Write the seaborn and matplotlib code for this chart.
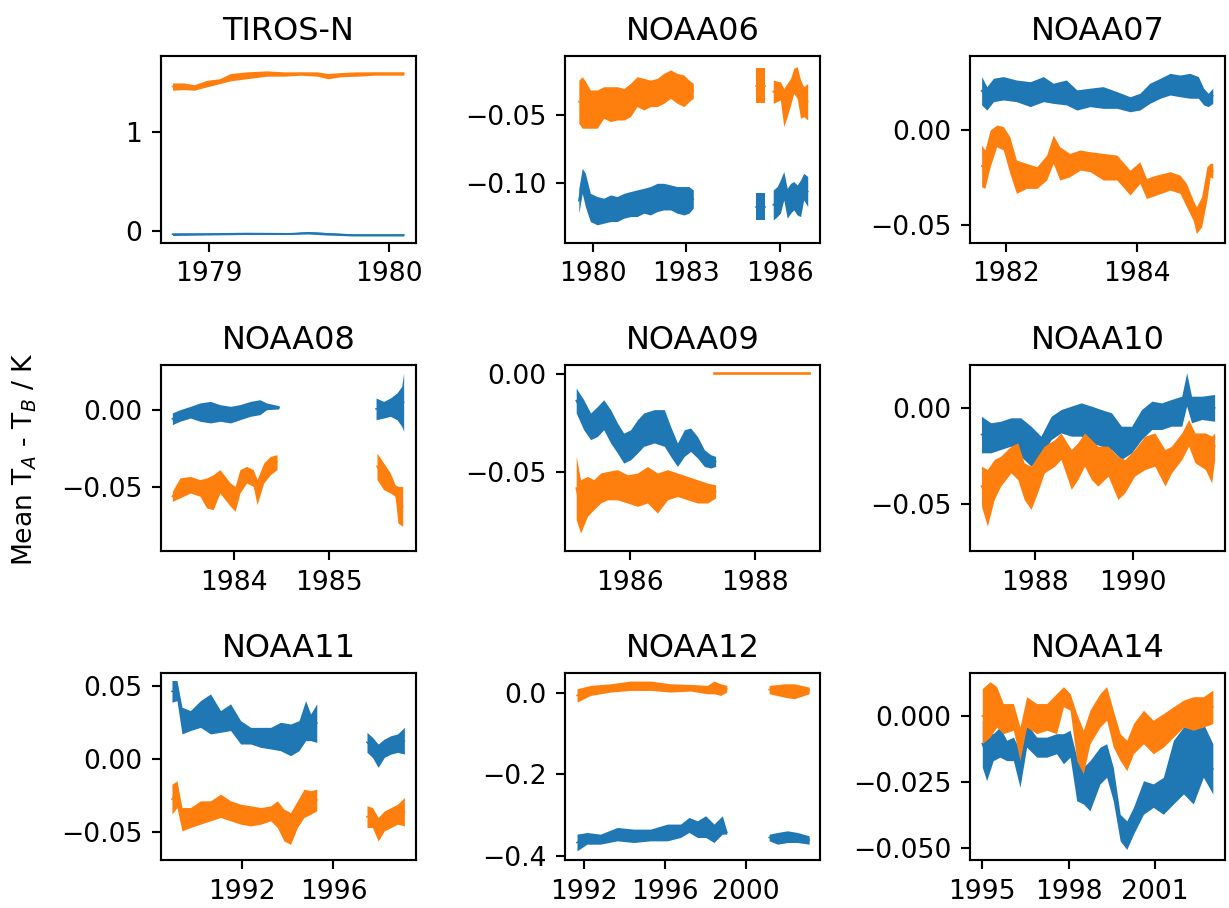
import numpy as np
import pandas as pd
import matplotlib
matplotlib.use("Agg")
import matplotlib.pyplot as plt
import seaborn as sns

nan = np.nan
BLUE = "#1f77b4"
ORANGE = "#ff7f0e"

# ---------------- data (decimal year, band low / band high) ----------------
TIROSN_YR_A = [1978.80, 1978.86, 1978.92, 1978.99, 1979.06, 1979.12, 1979.21, 1979.32, 1979.42,
               1979.51, 1979.60, 1979.66, 1979.73, 1979.82, 1979.92, 1980.01, 1980.08]
TIROSN_A_LO = [1.424, 1.43, 1.424, 1.458, 1.49, 1.519, 1.54, 1.566, 1.566,
               1.576, 1.566, 1.54, 1.56, 1.566, 1.576, 1.576, 1.576]
TIROSN_A_HI = [1.498, 1.498, 1.48, 1.525, 1.54, 1.593, 1.61, 1.62, 1.61,
               1.61, 1.61, 1.593, 1.603, 1.61, 1.61, 1.61, 1.61]
TIROSN_YR_B = [1978.80, 1979.0, 1979.2, 1979.45, 1979.55, 1979.65, 1979.8, 1980.08]
TIROSN_B_LO = [-0.045, -0.04, -0.035, -0.035, -0.03, -0.04, -0.05, -0.05]
TIROSN_B_HI = [-0.02, -0.02, -0.015, -0.02, -0.005, -0.015, -0.03, -0.03]

N06_YR = [1979.54, 1979.65, 1979.75, 1979.91, 1980.13, 1980.34, 1980.56, 1980.77, 1980.99, 1981.20,
          1981.41, 1981.63, 1981.84, 1982.06, 1982.27, 1982.49, 1982.70, 1982.92, 1983.08, 1983.22,
          nan, 1985.25, 1985.54, nan,
          1985.79, 1985.92, 1986.02, 1986.13, 1986.24, 1986.35, 1986.45, 1986.56, 1986.67, 1986.77, 1986.90]
N06_A_LO = [-0.0562, -0.0598, -0.0598, -0.0598, -0.0598, -0.0525, -0.0549, -0.0537, -0.0537, -0.0512,
            -0.0438, -0.0463, -0.0438, -0.0438, -0.0414, -0.0377, -0.0414, -0.0438, -0.0402, -0.0377,
            nan, -0.0414, -0.0414, nan,
            -0.0414, -0.040, -0.0389, -0.0586, -0.0512, -0.0426, -0.034, -0.0377, -0.0525, -0.0512, -0.0537]
N06_A_HI = [-0.0242, -0.0217, -0.0250, -0.0315, -0.0315, -0.0291, -0.0291, -0.0291, -0.0303, -0.0266,
            -0.0217, -0.0229, -0.0242, -0.0229, -0.0192, -0.0167, -0.0192, -0.0205, -0.0242, -0.0266,
            nan, -0.0155, -0.0155, nan,
            -0.0242, -0.0250, -0.0254, -0.0303, -0.0266, -0.0229, -0.0155, -0.0143, -0.0242, -0.0291, -0.0266]
N06_B_LO = [-0.1226, -0.1079, -0.1177, -0.1288, -0.1312, -0.1300, -0.1288, -0.1288, -0.1263, -0.1251,
            -0.1251, -0.1226, -0.1239, -0.1214, -0.1202, -0.1202, -0.1226, -0.1239, -0.1226, -0.1189,
            nan, -0.1276, -0.1276, nan,
            -0.1276, -0.1251, -0.1226, -0.1128, -0.1263, -0.1226, -0.1202, -0.1239, -0.1251, -0.1128, -0.1177]
N06_B_HI = [-0.1042, -0.0894, -0.0931, -0.1079, -0.1103, -0.1115, -0.1091, -0.1103, -0.1079, -0.1066,
            -0.1054, -0.1042, -0.1029, -0.1005, -0.1005, -0.1017, -0.1029, -0.1029, -0.1029, -0.1054,
            nan, -0.1079, -0.1079, nan,
            -0.1054, -0.1029, -0.0980, -0.0918, -0.1042, -0.1005, -0.0992, -0.1017, -0.0980, -0.0931, -0.0955]

N07_YR_B = [1981.63, 1981.71, 1981.81, 1981.96, 1982.16, 1982.37, 1982.57, 1982.72, 1982.92, 1983.08,
            1983.28, 1983.48, 1983.69, 1983.89, 1984.04, 1984.19, 1984.35, 1984.50, 1984.65, 1984.80,
            1984.93, 1985.01, 1985.08, 1985.15]
N07_B_LO = [0.0132, 0.0105, 0.0149, 0.0158, 0.0149, 0.0123, 0.0149, 0.0140, 0.0132, 0.0105,
            0.0123, 0.0114, 0.0114, 0.0096, 0.0105, 0.0140, 0.0167, 0.0184, 0.0175, 0.0167,
            0.0167, 0.0132, 0.0123, 0.0140]
N07_B_HI = [0.0281, 0.0228, 0.0272, 0.0281, 0.0263, 0.0254, 0.0281, 0.0246, 0.0263, 0.0211,
            0.0220, 0.0228, 0.0202, 0.0175, 0.0193, 0.0246, 0.0272, 0.0298, 0.0289, 0.0298,
            0.0281, 0.0220, 0.0193, 0.0220]
N07_YR_A = [1981.63, 1981.68, 1981.76, 1981.86, 1981.96, 1982.06, 1982.16, 1982.31, 1982.47, 1982.62,
            1982.72, 1982.82, 1982.97, 1983.13, 1983.28, 1983.48, 1983.69, 1983.89, 1984.04, 1984.14,
            1984.29, 1984.50, 1984.65, 1984.75, 1984.85, 1984.90, 1984.98, 1985.06, 1985.11, 1985.15]
N07_A_LO = [-0.0298, -0.0307, -0.0193, -0.0088, -0.0105, -0.0228, -0.0333, -0.0307, -0.0307, -0.0263,
            -0.0175, -0.0263, -0.0246, -0.0211, -0.0219, -0.0263, -0.0263, -0.0342, -0.0281, -0.0360,
            -0.0342, -0.0316, -0.0333, -0.0404, -0.0474, -0.0544, -0.0509, -0.0368, -0.0246, -0.0254]
N07_A_HI = [-0.0079, -0.0105, 0.0000, 0.0026, 0.0018, -0.0035, -0.0158, -0.0175, -0.0193, -0.0132,
            -0.0026, -0.0088, -0.0123, -0.0105, -0.0114, -0.0123, -0.0132, -0.0211, -0.0167, -0.0254,
            -0.0237, -0.0219, -0.0237, -0.0281, -0.0368, -0.0404, -0.0351, -0.0193, -0.0175, -0.0175]

N08_YR_B = [1983.35, 1983.43, 1983.54, 1983.64, 1983.75, 1983.85, 1983.96, 1984.06, 1984.17, 1984.27,
            1984.34, 1984.47, nan, 1985.49, 1985.57, 1985.64, 1985.71, 1985.76, 1985.78]
N08_B_LO = [-0.0093, -0.0071, -0.0050, -0.0071, -0.0082, -0.0071, -0.0082, -0.0061, -0.0039, -0.0028,
            0.0004, 0.0009, nan, -0.0061, -0.0050, -0.0039, -0.0061, -0.0104, -0.0136]
N08_B_HI = [-0.0017, 0.0004, 0.0026, 0.0048, 0.0058, 0.0037, 0.0026, 0.0037, 0.0058, 0.0069,
            0.0048, 0.0030, nan, 0.0080, 0.0058, 0.0080, 0.0113, 0.0156, 0.0242]
N08_YR_A = [1983.35, 1983.43, 1983.54, 1983.64, 1983.71, 1983.78, 1983.85, 1983.96, 1984.01, 1984.06,
            1984.13, 1984.20, 1984.24, 1984.31, 1984.38, 1984.45, nan,
            1985.50, 1985.57, 1985.64, 1985.69, 1985.72, 1985.77]
N08_A_LO = [-0.0591, -0.0569, -0.0537, -0.0558, -0.0634, -0.0645, -0.0537, -0.0623, -0.0656, -0.0537,
            -0.0472, -0.0494, -0.0613, -0.0472, -0.0418, -0.0385, nan,
            -0.0450, -0.0515, -0.0537, -0.0558, -0.0732, -0.0753]
N08_A_HI = [-0.0526, -0.0439, -0.0429, -0.0450, -0.0439, -0.0418, -0.0385, -0.0472, -0.0494, -0.0385,
            -0.0364, -0.0385, -0.0450, -0.0342, -0.0299, -0.0288, nan,
            -0.0277, -0.0342, -0.0407, -0.0483, -0.0494, -0.0494]

N09_YR_B = [1985.14, 1985.26, 1985.37, 1985.48, 1985.58, 1985.69, 1985.80, 1985.90, 1986.01, 1986.12,
            1986.22, 1986.39, 1986.55, 1986.65, 1986.76, 1986.87, 1986.97, 1987.08, 1987.19, 1987.29, 1987.37]
N09_B_LO = [-0.0199, -0.0284, -0.0334, -0.0318, -0.0284, -0.0351, -0.0402, -0.0453, -0.0436, -0.0402,
            -0.0368, -0.0351, -0.0368, -0.0419, -0.0470, -0.0419, -0.0394, -0.0427, -0.0470, -0.0478, -0.0470]
N09_B_HI = [-0.0073, -0.0132, -0.0199, -0.0166, -0.0132, -0.0182, -0.0250, -0.0301, -0.0284, -0.0233,
            -0.0199, -0.0182, -0.0182, -0.0267, -0.0351, -0.0284, -0.0275, -0.0318, -0.0385, -0.0410, -0.0419]
N09_YR_A = [1985.14, 1985.21, 1985.32, 1985.42, 1985.53, 1985.64, 1985.80, 1985.96, 1986.12, 1986.28,
            1986.44, 1986.60, 1986.76, 1986.92, 1987.08, 1987.24, 1987.37]
N09_A_LO = [-0.0740, -0.0807, -0.0723, -0.0689, -0.0655, -0.0639, -0.0639, -0.0655, -0.0672, -0.0655,
            -0.0706, -0.0639, -0.0622, -0.0639, -0.0655, -0.0655, -0.0630]
N09_A_HI = [-0.0419, -0.0537, -0.0520, -0.0537, -0.0503, -0.0495, -0.0486, -0.0512, -0.0503, -0.0470,
            -0.0503, -0.0486, -0.0503, -0.0520, -0.0537, -0.0554, -0.0563]
N09_FLAT_YR = [1987.35, 1988.87]
N09_FLAT_V = [0.0003, 0.0003]

N10_YR_B = [1986.91, 1987.10, 1987.30, 1987.51, 1987.71, 1987.92, 1988.12, 1988.33, 1988.53, 1988.74,
            1988.94, 1989.15, 1989.35, 1989.56, 1989.76, 1989.97, 1990.17, 1990.38, 1990.58, 1990.78,
            1990.99, 1991.09, 1991.19, 1991.40, 1991.66]
N10_B_LO = [-0.0235, -0.0235, -0.0218, -0.0200, -0.0253, -0.0305, -0.0253, -0.0166, -0.0131, -0.0148,
            -0.0148, -0.0183, -0.0200, -0.0218, -0.0270, -0.0235, -0.0166, -0.0113, -0.0113, -0.0096,
            -0.0096, 0.0009, -0.0078, -0.0061, -0.0070]
N10_B_HI = [-0.0044, -0.0078, -0.0070, -0.0052, -0.0052, -0.0096, -0.0148, -0.0044, -0.0009, 0.0009,
            0.0026, 0.0009, -0.0009, -0.0026, -0.0096, -0.0096, -0.0009, 0.0035, 0.0026, 0.0044,
            0.0061, 0.0183, 0.0061, 0.0061, 0.0070]
N10_YR_A = [1986.91, 1987.03, 1987.17, 1987.30, 1987.51, 1987.65, 1987.78, 1987.92, 1988.05, 1988.19,
            1988.40, 1988.53, 1988.74, 1988.87, 1989.01, 1989.15, 1989.28, 1989.49, 1989.69, 1989.83,
            1990.03, 1990.24, 1990.44, 1990.65, 1990.78, 1990.99, 1991.13, 1991.26, 1991.47, 1991.60, 1991.66]
N10_A_LO = [-0.0514, -0.0618, -0.0479, -0.0409, -0.0340, -0.0375, -0.0479, -0.0531, -0.0444, -0.0340,
            -0.0305, -0.0270, -0.0426, -0.0375, -0.0305, -0.0375, -0.0409, -0.0357, -0.0479, -0.0444,
            -0.0357, -0.0322, -0.0305, -0.0409, -0.0340, -0.0270, -0.0200, -0.0287, -0.0322, -0.0392, -0.0270]
N10_A_HI = [-0.0305, -0.0322, -0.0270, -0.0253, -0.0200, -0.0183, -0.0287, -0.0305, -0.0253, -0.0200,
            -0.0166, -0.0131, -0.0218, -0.0183, -0.0131, -0.0166, -0.0200, -0.0200, -0.0253, -0.0270,
            -0.0218, -0.0148, -0.0131, -0.0218, -0.0200, -0.0131, -0.0061, -0.0131, -0.0131, -0.0148, -0.0131]

N11_YR_B = [1988.92, 1989.14, 1989.36, 1989.73, 1990.17, 1990.61, 1991.05, 1991.49, 1991.93, 1992.37,
            1992.81, 1993.25, 1993.68, 1994.12, 1994.49, 1994.78, 1995.00, 1995.27, nan,
            1997.47, 1997.71, 1997.96, 1998.23, 1998.52, 1998.81, 1999.11]
N11_B_LO = [0.0389, 0.0400, 0.0172, 0.0195, 0.0217, 0.0172, 0.0183, 0.0195, 0.0103, 0.0103,
            0.0080, 0.0069, 0.0057, 0.0023, 0.0057, 0.0126, 0.0126, 0.0114, nan,
            0.0046, 0.0011, -0.0057, 0.0011, 0.0034, 0.0046, 0.0034]
N11_B_HI = [0.0538, 0.0538, 0.0355, 0.0332, 0.0400, 0.0446, 0.0332, 0.0378, 0.0263, 0.0217,
            0.0217, 0.0217, 0.0252, 0.0240, 0.0263, 0.0400, 0.0309, 0.0378, nan,
            0.0183, 0.0149, 0.0103, 0.0137, 0.0160, 0.0172, 0.0217]
N11_YR_A = [1988.92, 1989.14, 1989.36, 1989.73, 1990.17, 1990.61, 1991.05, 1991.49, 1991.93, 1992.37,
            1992.81, 1993.25, 1993.54, 1993.83, 1994.12, 1994.42, 1994.71, 1995.00, 1995.27, nan,
            1997.47, 1997.71, 1997.96, 1998.23, 1998.52, 1998.81, 1999.11]
N11_A_LO = [-0.0378, -0.0332, -0.0492, -0.0469, -0.0446, -0.0423, -0.0400, -0.0423, -0.0446, -0.0458,
            -0.0446, -0.0423, -0.0469, -0.0561, -0.0584, -0.0469, -0.0400, -0.0378, -0.0355, nan,
            -0.0469, -0.0469, -0.0561, -0.0492, -0.0469, -0.0446, -0.0458]
N11_A_HI = [-0.0172, -0.0149, -0.0332, -0.0332, -0.0286, -0.0286, -0.0240, -0.0286, -0.0309, -0.0320,
            -0.0332, -0.0320, -0.0286, -0.0343, -0.0366, -0.0286, -0.0206, -0.0217, -0.0206, nan,
            -0.0320, -0.0332, -0.0400, -0.0355, -0.0332, -0.0309, -0.0263]

N12_YR_A = [1991.67, 1992.33, 1993.32, 1994.30, 1995.29, 1996.28, 1997.27, 1998.09, 1998.42, 1998.75,
            1999.05, nan, 2001.14, 2001.88, 2002.37, 2003.11]
N12_A_LO = [-0.0230, -0.0066, 0.0016, 0.0057, 0.0057, 0.0016, 0.0041, -0.0025, -0.0025, -0.0066,
            0.0016, nan, -0.0025, -0.0107, -0.0148, -0.0025]
N12_A_HI = [0.0098, 0.0180, 0.0220, 0.0287, 0.0287, 0.0220, 0.0205, 0.0180, 0.0287, 0.0220,
            0.0180, nan, 0.0180, 0.0220, 0.0220, 0.0139]
N12_YR_B = [1991.67, 1992.16, 1992.82, 1993.65, 1994.47, 1995.29, 1996.12, 1996.77, 1997.19, 1997.60,
            1998.01, 1998.42, 1998.83, 1999.05, nan, 2001.14, 2001.55, 2002.04, 2002.53, 2003.11]
N12_B_LO = [-0.3877, -0.3713, -0.3713, -0.3631, -0.3672, -0.3631, -0.3631, -0.3549, -0.3426, -0.3549,
            -0.3549, -0.3672, -0.3467, -0.3467, nan, -0.3631, -0.3713, -0.3672, -0.3672, -0.3713]
N12_B_HI = [-0.3467, -0.3426, -0.3467, -0.3303, -0.3344, -0.3344, -0.3220, -0.3220, -0.3057, -0.3139,
            -0.3016, -0.3220, -0.3016, -0.3385, nan, -0.3467, -0.3426, -0.3385, -0.3426, -0.3508]

N14_YR_A = [1995.00, 1995.27, 1995.50, 1995.73, 1996.08, 1996.31, 1996.54, 1996.89, 1997.24, 1997.58,
            1997.82, 1998.05, 1998.28, 1998.51, 1998.74, 1999.09, 1999.32, 1999.55, 1999.79, 2000.02,
            2000.25, 2000.60, 2000.94, 2001.29, 2001.64, 2001.99, 2002.33, 2002.68, 2003.01]
N14_A_LO = [-0.0104, -0.0079, -0.0041, -0.0066, -0.0053, -0.0168, -0.0041, -0.0066, -0.0053, -0.0066,
            0.0036, 0.0023, -0.0168, -0.0218, -0.0104, -0.0041, -0.0015, -0.0117, -0.0168, -0.0206,
            -0.0142, -0.0104, -0.0142, -0.0117, -0.0079, -0.0041, -0.0053, -0.0041, -0.0028]
N14_A_HI = [0.0105, 0.0131, 0.0112, 0.0048, 0.0048, -0.0041, 0.0074, 0.0048, 0.0048, 0.0086,
            0.0112, 0.0086, 0.0010, -0.0053, 0.0023, 0.0086, 0.0112, 0.0023, -0.0066, -0.0091,
            -0.0028, 0.0023, -0.0015, 0.0010, 0.0036, 0.0061, 0.0074, 0.0074, 0.0099]
N14_YR_B = [1995.00, 1995.15, 1995.38, 1995.61, 1995.85, 1996.08, 1996.31, 1996.54, 1996.89, 1997.24,
            1997.58, 1997.82, 1998.05, 1998.28, 1998.51, 1998.74, 1999.09, 1999.32, 1999.55, 1999.79,
            2000.02, 2000.25, 2000.60, 2000.94, 2001.29, 2001.64, 2001.99, 2002.33, 2002.68, 2003.01]
N14_B_LO = [-0.0193, -0.0244, -0.0168, -0.0155, -0.0168, -0.0168, -0.0269, -0.0117, -0.0155, -0.0155,
            -0.0142, -0.0180, -0.0155, -0.0320, -0.0332, -0.0358, -0.0256, -0.0231, -0.0320, -0.0472,
            -0.0504, -0.0447, -0.0371, -0.0345, -0.0371, -0.0332, -0.0294, -0.0332, -0.0231, -0.0294]
N14_B_HI = [-0.0015, -0.0053, -0.0066, -0.0041, -0.0091, -0.0079, -0.0130, -0.0028, -0.0079, -0.0079,
            -0.0066, -0.0066, -0.0053, -0.0155, -0.0193, -0.0168, -0.0117, -0.0104, -0.0193, -0.0371,
            -0.0396, -0.0345, -0.0244, -0.0256, -0.0231, -0.0091, -0.0041, -0.0041, -0.0028, -0.0104]

TITLES = ["TIROS-N", "NOAA06", "NOAA07", "NOAA08", "NOAA09", "NOAA10", "NOAA11", "NOAA12", "NOAA14"]
XLIMS = [(1978.736, 1980.148), (1979.11, 1987.31), (1981.452, 1985.335),
         (1983.231, 1985.91), (1984.968, 1989.048), (1986.675, 1991.87),
         (1988.44, 1999.62), (1991.10, 2003.67), (1994.57, 2003.43)]
YLIMS = [(-0.119, 1.77), (-0.1445, -0.0064), (-0.0593, 0.0389),
         (-0.0916, 0.0297), (-0.090, 0.0046), (-0.075, 0.0226),
         (-0.0691, 0.0588), (-0.41, 0.048), (-0.0544, 0.0163)]
XTICKS = [[1979, 1980], [1980, 1983, 1986], [1982, 1984],
          [1984, 1985], [1986, 1988], [1988, 1990],
          [1992, 1996], [1992, 1996, 2000], [1995, 1998, 2001]]
YTICKS = [[0, 1], [-0.10, -0.05], [-0.05, 0.00],
          [-0.05, 0.00], [-0.05, 0.00], [-0.05, 0.00],
          [-0.05, 0.00, 0.05], [-0.4, -0.2, 0.0], [-0.050, -0.025, 0.000]]
YFMT = ["{:.0f}", "{:.2f}", "{:.2f}", "{:.2f}", "{:.2f}", "{:.2f}", "{:.2f}", "{:.1f}", "{:.3f}"]

SERIES = [
    [(TIROSN_YR_B, TIROSN_B_LO, TIROSN_B_HI, BLUE), (TIROSN_YR_A, TIROSN_A_LO, TIROSN_A_HI, ORANGE)],
    [(N06_YR, N06_B_LO, N06_B_HI, BLUE), (N06_YR, N06_A_LO, N06_A_HI, ORANGE)],
    [(N07_YR_B, N07_B_LO, N07_B_HI, BLUE), (N07_YR_A, N07_A_LO, N07_A_HI, ORANGE)],
    [(N08_YR_B, N08_B_LO, N08_B_HI, BLUE), (N08_YR_A, N08_A_LO, N08_A_HI, ORANGE)],
    [(N09_YR_B, N09_B_LO, N09_B_HI, BLUE), (N09_YR_A, N09_A_LO, N09_A_HI, ORANGE)],
    [(N10_YR_B, N10_B_LO, N10_B_HI, BLUE), (N10_YR_A, N10_A_LO, N10_A_HI, ORANGE)],
    [(N11_YR_B, N11_B_LO, N11_B_HI, BLUE), (N11_YR_A, N11_A_LO, N11_A_HI, ORANGE)],
    [(N12_YR_B, N12_B_LO, N12_B_HI, BLUE), (N12_YR_A, N12_A_LO, N12_A_HI, ORANGE)],
    [(N14_YR_B, N14_B_LO, N14_B_HI, BLUE), (N14_YR_A, N14_A_LO, N14_A_HI, ORANGE)],
]


def segments(yr, lo, hi):
    yr, lo, hi = np.asarray(yr, float), np.asarray(lo, float), np.asarray(hi, float)
    breaks = np.where(np.isnan(yr))[0]
    start = 0
    for b in list(breaks) + [len(yr)]:
        if b > start:
            yield yr[start:b], lo[start:b], hi[start:b]
        start = b + 1


def band(ax, yr, lo, hi, color):
    for x, l, h in segments(yr, lo, hi):
        df = pd.DataFrame({"x": np.concatenate([x, x]), "y": np.concatenate([l, h])})
        sns.lineplot(data=df, x="x", y="y", ax=ax, color=color, estimator="mean",
                     errorbar=("pi", 100), err_kws=dict(alpha=1.0, linewidth=0),
                     linewidth=0.6)


fig, axes = plt.subplots(3, 3, figsize=(1229 / 192, 908 / 192), dpi=192)
fig.subplots_adjust(left=0.131, right=0.9967, bottom=0.0529, top=0.9383, wspace=0.586, hspace=0.652)

for i, ax in enumerate(axes.flat):
    for yr, lo, hi, col in SERIES[i]:
        band(ax, yr, lo, hi, col)
    if i == 4:
        sns.lineplot(x=N09_FLAT_YR, y=N09_FLAT_V, ax=ax, color=ORANGE, linewidth=1.0)
    ax.set_xlim(*XLIMS[i])
    ax.set_ylim(*YLIMS[i])
    ax.set_xticks(XTICKS[i])
    ax.set_xticklabels([str(t) for t in XTICKS[i]])
    ax.set_yticks(YTICKS[i])
    ax.set_yticklabels([YFMT[i].format(t).replace("-", "\u2212") for t in YTICKS[i]])
    ax.set_xlabel("")
    ax.set_ylabel("")
    ax.set_title(TITLES[i], fontsize=12)

fig.text(0.0205, 0.4945, "Mean T$_A$ - T$_B$ / K", rotation=90, ha="center", va="center", fontsize=10)

fig.savefig("out.png", dpi=192)
